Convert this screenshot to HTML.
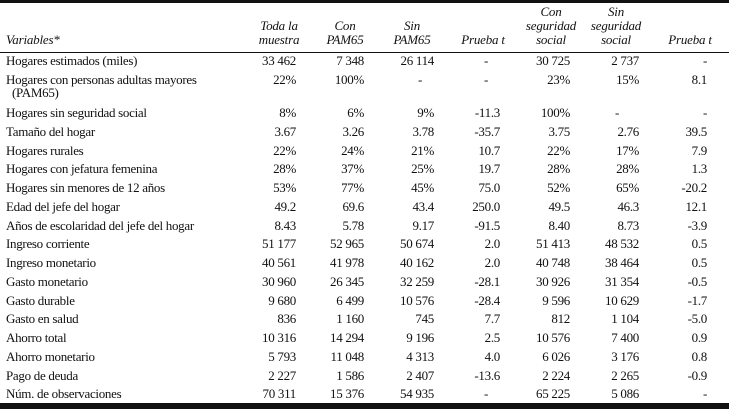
<!DOCTYPE html>
<html><head><meta charset="utf-8">
<style>
html,body{margin:0;padding:0;background:#fff;}
#t{position:relative;width:729px;height:409px;overflow:hidden;font-family:"Liberation Serif",serif;font-size:13px;color:#111;}
.rule{position:absolute;left:0;width:729px;background:#111;}
.c{position:absolute;white-space:nowrap;line-height:13px;letter-spacing:-0.3px;}
.h{position:absolute;white-space:nowrap;font-style:italic;line-height:14px;text-align:center;letter-spacing:-0.2px;}
</style></head>
<body>
<div id="t">
<div class="rule" style="top:0;height:3px"></div>
<div class="rule" style="top:52px;height:1px"></div>
<div class="rule" style="top:403px;height:6px"></div>
<div class="h" style="left:6px;top:33px;text-align:left">Variables*</div>
</div>
<script>
const headers=[["Toda la","muestra"],["Con","PAM65"],["Sin","PAM65"],["Prueba t"],["Con","seguridad","social"],["Sin","seguridad","social"],["Prueba t"]];
const headerCenters=[279,345,412,483,551,616,690];
const rightEdges=[296,364,434,500,570,639,707];
const dashX=[279,345,420,486,551,617,705];
const labels=["Hogares estimados (miles)","Hogares con personas adultas mayores|(PAM65)","Hogares sin seguridad social","Tamaño del hogar","Hogares rurales","Hogares con jefatura femenina","Hogares sin menores de 12 años","Edad del jefe del hogar","Años de escolaridad del jefe del hogar","Ingreso corriente","Ingreso monetario","Gasto monetario","Gasto durable","Gasto en salud","Ahorro total","Ahorro monetario","Pago de deuda","Núm. de observaciones"];
const values=[
["33 462","7 348","26 114","-","30 725","2 737","-"],
["22%","100%","-","-","23%","15%","8.1"],
["8%","6%","9%","-11.3","100%","-","-"],
["3.67","3.26","3.78","-35.7","3.75","2.76","39.5"],
["22%","24%","21%","10.7","22%","17%","7.9"],
["28%","37%","25%","19.7","28%","28%","1.3"],
["53%","77%","45%","75.0","52%","65%","-20.2"],
["49.2","69.6","43.4","250.0","49.5","46.3","12.1"],
["8.43","5.78","9.17","-91.5","8.40","8.73","-3.9"],
["51 177","52 965","50 674","2.0","51 413","48 532","0.5"],
["40 561","41 978","40 162","2.0","40 748","38 464","0.5"],
["30 960","26 345","32 259","-28.1","30 926","31 354","-0.5"],
["9 680","6 499","10 576","-28.4","9 596","10 629","-1.7"],
["836","1 160","745","7.7","812","1 104","-5.0"],
["10 316","14 294","9 196","2.5","10 576","7 400","0.9"],
["5 793","11 048","4 313","4.0","6 026","3 176","0.8"],
["2 227","1 586","2 407","-13.6","2 224","2 265","-0.9"],
["70 311","15 376","54 935","-","65 225","5 086","-"]];
const T=document.getElementById('t');
headers.forEach((h,i)=>{
  const d=document.createElement('div');d.className='h';
  d.innerHTML=h.join('<br>');
  d.style.left=(headerCenters[i]-40)+'px';d.style.width='80px';
  d.style.top=(47-14*h.length)+'px';
  
  
  T.appendChild(d);
});
function rowY(i){ if(i===0) return 61; if(i===1) return 80; return 113+(i-2)*18.75; }
labels.forEach((lab,i)=>{
  const y=rowY(i);
  const parts=lab.split('|');
  const d=document.createElement('div');d.className='c';
  d.innerHTML=parts[0]+(parts[1]?'<br><span style="padding-left:6px">'+parts[1]+'</span>':'');
  d.style.left='6px';d.style.top=(y-7)+'px';
  
  
  T.appendChild(d);
  values[i].forEach((v,j)=>{
    const e=document.createElement('div');e.className='c';e.textContent=v;
    e.style.top=(y-7)+'px';
    if(v==='-'){e.style.left=(dashX[j]-2)+'px';}
    else{e.style.right=(729-rightEdges[j])+'px';}
    
    
    T.appendChild(e);
  });
});
</script>
</body></html>
